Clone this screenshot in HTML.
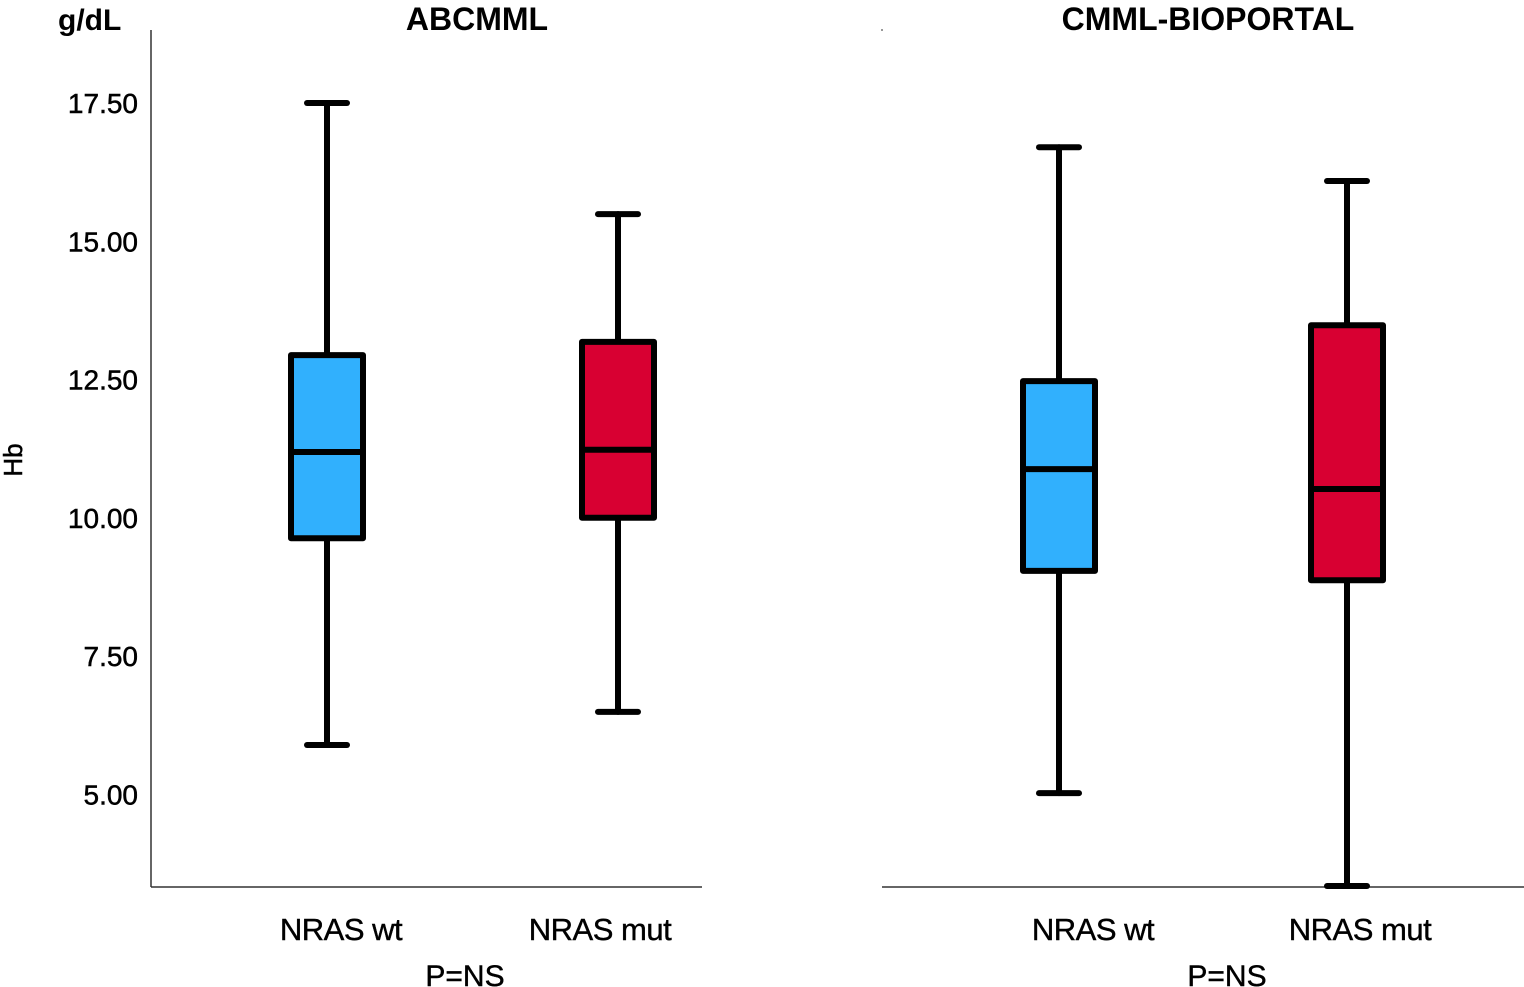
<!DOCTYPE html>
<html><head><meta charset="utf-8"><style>
html,body{margin:0;padding:0;background:#fff;}
svg{display:block;font-family:"Liberation Sans",Arial,sans-serif;}
</style></head><body>
<svg id="chart" width="1524" height="987" viewBox="0 0 1524 987">
<g id="axes"></g><g id="marks"></g>
</svg>
<script>
const panels = ["ABCMML", "CMML-BIOPORTAL"];
const categories = ["NRAS wt", "NRAS mut"];
const yTicks = [5.0, 7.5, 10.0, 12.5, 15.0, 17.5];
const mins    = [5.89, 6.49, 5.02, 3.34];
const q1s     = [9.63, 10.0, 9.04, 8.87];
const medians = [11.19, 11.23, 10.88, 10.52];
const q3s     = [12.94, 13.18, 12.47, 13.48];
const maxs    = [17.5, 15.49, 16.70, 16.09];
const colors = ["#31b0fd", "#d80032"];

const NS = "http://www.w3.org/2000/svg";
const y = v => 103 + (17.5 - v) * 55.3;
const panelX = [{l:151,r:702,c:[327,618],lab:[341,600],title:477,p:465},{l:882,r:1524,c:[1059,1347],lab:[1093,1360],title:1208,p:1227}];
const axes = document.getElementById('axes');
const marks = document.getElementById('marks');
function mk(tag, attrs, parent, text){
  const e = document.createElementNS(NS, tag);
  for (const k in attrs) e.setAttribute(k, attrs[k]);
  if (text !== undefined) e.textContent = text;
  parent.appendChild(e); return e;
}
let ax = mk('line',{x1:151,y1:30,x2:151,y2:887,stroke:'#333','stroke-width':1.5},axes);


yTicks.forEach(t=>{
  const tx = mk('text',{x:138,y:y(t)+10,'text-anchor':'end','font-size':28,fill:'#000',stroke:'#000','stroke-width':0.5},axes,t.toFixed(2));
  
  
});
let u = mk('text',{x:58,y:30,'font-size':30,'font-weight':'bold',fill:'#000'},axes,'g/dL');


let hb = mk('text',{x:0,y:0,'font-size':26,fill:'#000',stroke:'#000','stroke-width':0.5,'text-anchor':'middle',transform:'translate(22,460) rotate(-90)'},axes,'Hb');


mk('rect',{x:881,y:29,width:2,height:2,fill:'#999'},axes);
panels.forEach((p,pi)=>{
  const P = panelX[pi];
  const xl = mk('line',{x1:P.l,y1:887,x2:P.r,y2:887,stroke:'#333','stroke-width':1.5},axes);
  
  
  const t = mk('text',{x:P.title,y:30,'text-anchor':'middle','font-size':32,'font-weight':'bold',fill:'#000'},axes,p);
  
  
  const pn = mk('text',{x:P.p,y:986,'text-anchor':'middle','font-size':30,fill:'#000',stroke:'#000','stroke-width':0.4},axes,'P=NS');
  
  
  categories.forEach((c,ci)=>{
    const i = pi*2+ci, cx = P.c[ci];
    const cl = mk('text',{x:P.lab[ci],y:940,'text-anchor':'middle','font-size':31,fill:'#000',stroke:'#000','stroke-width':0.4,'letter-spacing':-0.5},axes,c);
    
    
    const g = mk('g',{},marks);
    
    
    const sw = {stroke:'#000','stroke-width':6,'stroke-linecap':'round'};
    mk('line',Object.assign({x1:cx,y1:y(maxs[i]),x2:cx,y2:y(q3s[i])},sw),g);
    mk('line',Object.assign({x1:cx,y1:y(q1s[i]),x2:cx,y2:y(mins[i])},sw),g);
    mk('line',Object.assign({x1:cx-20,y1:y(maxs[i]),x2:cx+20,y2:y(maxs[i])},sw),g);
    mk('line',Object.assign({x1:cx-20,y1:y(mins[i]),x2:cx+20,y2:y(mins[i])},sw),g);
    mk('rect',{x:cx-36,y:y(q3s[i]),width:72,height:y(q1s[i])-y(q3s[i]),fill:colors[ci],stroke:'#000','stroke-width':6,'stroke-linejoin':'round'},g);
    mk('line',{x1:cx-36,y1:y(medians[i]),x2:cx+36,y2:y(medians[i]),stroke:'#000','stroke-width':6},g);
  });
});
</script>
</body></html>
